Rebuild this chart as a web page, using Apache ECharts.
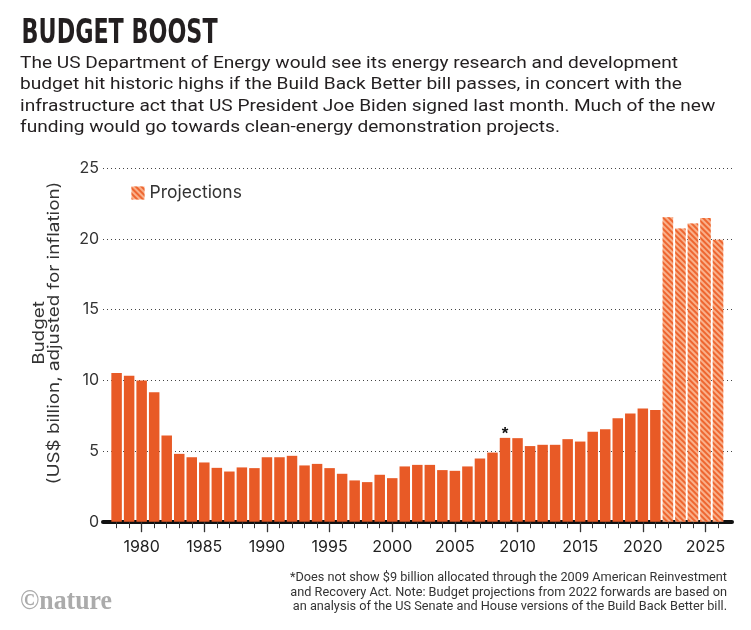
<!DOCTYPE html>
<html><head><meta charset="utf-8">
<script src="https://cdn.jsdelivr.net/npm/echarts@6/dist/echarts.min.js"></script>
<style>html,body{margin:0;padding:0;background:#fff}#c{width:751px;height:630px}</style>
</head><body><div id="c"></div>
<script>
// ---- data ----
const historicalYears = [1978,1979,1980,1981,1982,1983,1984,1985,1986,1987,1988,1989,1990,1991,1992,1993,1994,1995,1996,1997,1998,1999,2000,2001,2002,2003,2004,2005,2006,2007,2008,2009,2010,2011,2012,2013,2014,2015,2016,2017,2018,2019,2020,2021];
const historicalValues = [10.52,10.33,9.98,9.15,6.09,4.80,4.56,4.19,3.81,3.55,3.84,3.79,4.56,4.56,4.66,3.98,4.09,3.79,3.39,2.92,2.80,3.32,3.08,3.91,4.02,4.02,3.65,3.60,3.91,4.47,4.89,5.93,5.91,5.35,5.44,5.44,5.84,5.67,6.36,6.54,7.32,7.65,8.00,7.91];
const projectionYears = [2022,2023,2024,2025,2026];
const projectionValues = [21.53,20.75,21.10,21.48,19.95];
const asteriskYear = 2009;
const minorTickYears = [1978,1979,1980,1981,1982,1983,1984,1985,1986,1987,1988,1989,1990,1991,1992,1993,1994,1995,1996,1997,1998,1999,2000,2001,2002,2003,2004,2005,2006,2007,2008,2009,2010,2011,2012,2013,2014,2015,2016,2017,2018,2019,2020,2021,2022,2023,2024,2025,2026];
const xTickLabels = [1980,1985,1990,1995,2000,2005,2010,2015,2020,2025];
const yTickLabels = [0,5,10,15,20,25];

const titleText = 'BUDGET BOOST';
const subtitleLines = [
  'The US Department of Energy would see its energy research and development',
  'budget hit historic highs if the Build Back Better bill passes, in concert with the',
  'infrastructure act that US President Joe Biden signed last month. Much of the new',
  'funding would go towards clean-energy demonstration projects.'
];
const footnoteLines = [
  '*Does not show $9 billion allocated through the 2009 American Reinvestment',
  'and Recovery Act. Note: Budget projections from 2022 forwards are based on',
  'an analysis of the US Senate and House versions of the Build Back Better bill.'
];
const yNameLines = ['Budget', '(US$ billion, adjusted for inflation)'];
const legendLabel = 'Projections';
const logoText = '\u00A9nature';

// ---- helpers ----
const mctx = document.createElement('canvas').getContext('2d');
function textWidth(text, font) { mctx.font = font; return mctx.measureText(text).width; }
function fitScale(text, font, width) { return width / textWidth(text, font); }

const ORANGE = '#E85A26';
const TEXT = '#231f20';

const titleFont = 'bold 34px "DejaVu Sans Condensed"';
const subFont = '17px Roboto';
const subScale = fitScale(subtitleLines[0], subFont, 658);
const footFont = '12.5px Roboto';
const footScale = fitScale(footnoteLines[0], footFont, 437);
const FOOT_RIGHT = 727;
const yNameFont = '16px Inter';
const yNameScale = fitScale(yNameLines[1], yNameFont, 303);
const logoFont = 'bold 28px "Liberation Serif"';

const graphics = [];
graphics.push({ type: 'text', x: 21.6, y: 34.5, scaleX: fitScale(titleText, titleFont, 196),
  style: { text: titleText, font: titleFont, fill: TEXT, align: 'left', verticalAlign: 'middle' } });
subtitleLines.forEach((t, i) => graphics.push({ type: 'text', x: 20, y: 63.5 + i * 21.5, scaleX: subScale,
  style: { text: t, font: subFont, fill: TEXT, align: 'left', verticalAlign: 'middle' } }));
footnoteLines.forEach((t, i) => graphics.push({ type: 'text',
  x: FOOT_RIGHT - textWidth(t, footFont) * footScale, y: 578 + i * 14.5, scaleX: footScale,
  style: { text: t, font: footFont, fill: '#333', align: 'left', verticalAlign: 'middle' } }));
yNameLines.forEach((t, i) => graphics.push({ type: 'text', x: 39 + i * 15.5,
  y: 333 + textWidth(t, yNameFont) * yNameScale / 2, rotation: Math.PI / 2, scaleX: yNameScale,
  style: { text: t, font: yNameFont, fill: '#333', align: 'left', verticalAlign: 'middle' } }));
graphics.push({ type: 'text', x: 20, y: 602, scaleX: fitScale(logoText, logoFont, 92),
  style: { text: logoText, font: logoFont, fill: '#ababab', align: 'left', verticalAlign: 'middle' } });

const histData = historicalYears.map((y, i) => {
  const item = { value: [y, historicalValues[i]] };
  if (y === asteriskYear) item.label = { show: true, formatter: '*', position: 'top', distance: -5, fontSize: 17, fontWeight: 'bold', color: '#111' };
  return item;
});
const projData = projectionYears.map((y, i) => [y, projectionValues[i]]);

const X_MIN = 1976.915, X_MAX = 2027.117;

const chart = echarts.init(document.getElementById('c'), null, { renderer: 'canvas' });
chart.setOption({
  animation: false,
  backgroundColor: '#fff',
  graphic: graphics,
  legend: {
    data: [legendLabel], left: 131.5, top: 184, padding: 0, itemWidth: 13, itemHeight: 13, icon: 'rect',
    itemGap: 6, textStyle: { fontFamily: 'Inter', fontSize: 17.5, color: '#333' }
  },
  grid: { left: 103, right: 19, top: 168.3, bottom: 108.3, containLabel: false },
  xAxis: [
    { type: 'value', min: X_MIN, max: X_MAX, position: 'bottom',
      axisLine: { show: true, onZero: false, lineStyle: { color: '#111', width: 4 } },
      axisTick: { show: true, customValues: minorTickYears, length: 6.5, lineStyle: { color: '#333', width: 1 } },
      axisLabel: { show: false }, splitLine: { show: false } },
    { type: 'value', min: X_MIN, max: X_MAX, position: 'bottom',
      axisLine: { show: false, onZero: false },
      axisTick: { show: true, customValues: xTickLabels, length: 10.5, lineStyle: { color: '#333', width: 1.3 } },
      axisLabel: { show: true, customValues: xTickLabels, margin: 17, fontFamily: 'Inter', fontSize: 16, color: '#222', formatter: v => String(v) },
      splitLine: { show: false } }
  ],
  yAxis: {
    type: 'value', min: 0, max: 25, interval: 5,
    axisLine: { show: false }, axisTick: { show: false },
    axisLabel: { margin: 4, fontFamily: 'Inter', fontSize: 16, color: '#333', customValues: yTickLabels },
    splitLine: { show: true, lineStyle: { color: '#444', width: 1, type: [1, 3] } }
  },
  series: [
    { name: 'Budget', type: 'bar', xAxisIndex: 0, data: histData, barWidth: 10.5, barGap: '-100%',
      itemStyle: { color: ORANGE } },
    { name: legendLabel, type: 'bar', xAxisIndex: 0, data: projData, barWidth: 10.5, barGap: '-100%',
      itemStyle: { color: '#F9B08A',
        decal: { symbol: 'rect', symbolSize: 1, dashArrayX: [1, 0], dashArrayY: [1.6, 1.6], rotation: Math.PI / 4, color: '#EE6630' } } }
  ]
});
</script></body></html>
